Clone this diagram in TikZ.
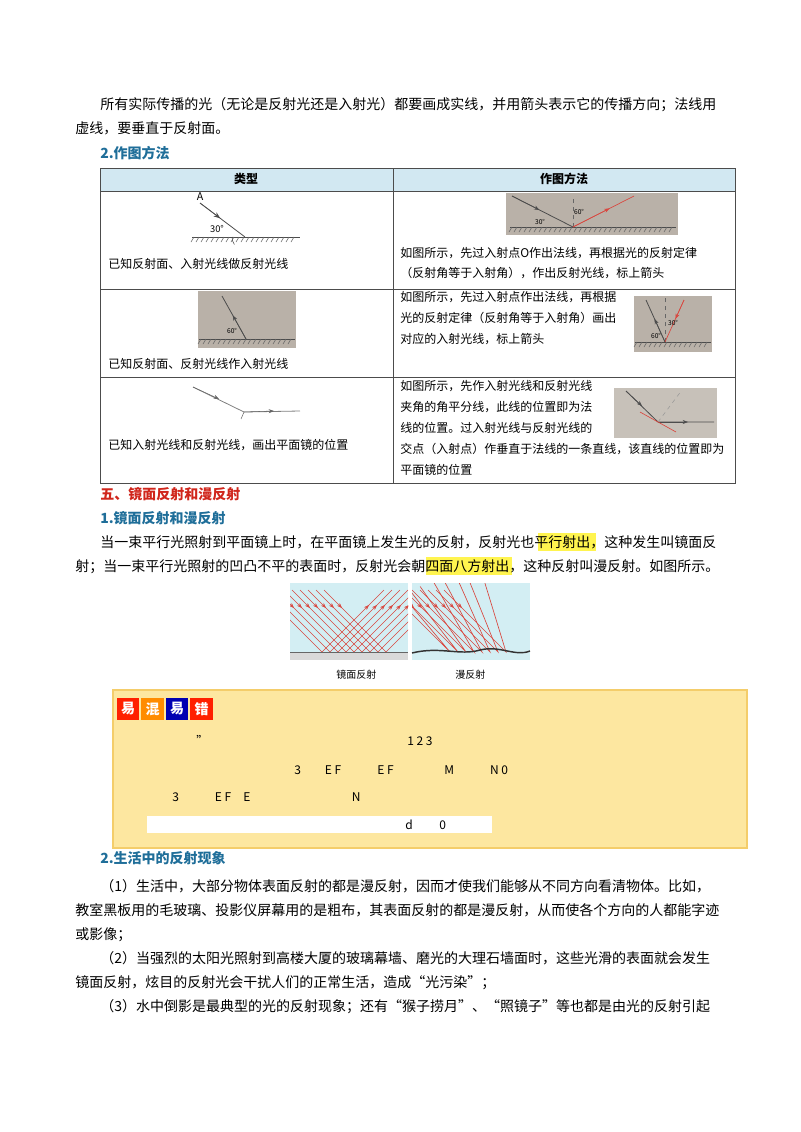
\documentclass[tikz,border=0pt]{standalone}
\usepackage{fontspec}
\setmainfont{Noto Sans CJK SC}
\usetikzlibrary{arrows.meta, positioning, calc}
\definecolor{headblue}{HTML}{D2E8F2}
\definecolor{titleblue}{HTML}{1F6E99}
\definecolor{titlered}{HTML}{D0261C}
\definecolor{boxfill}{HTML}{FDE7A0}
\definecolor{boxline}{HTML}{F4CD6A}
\definecolor{photo}{HTML}{B9B1A8}
\definecolor{sky}{HTML}{D3EEF3}
\definecolor{rayred}{HTML}{D9473F}
\definecolor{highlite}{HTML}{FFF44F}
\tikzset{
    body/.style={anchor=base west, inner sep=0pt, font=\fontsize{10.5pt}{12pt}\selectfont},
    small/.style={anchor=base west, inner sep=0pt, font=\fontsize{9pt}{11pt}\selectfont},
    title/.style={body, font=\fontsize{10.5pt}{12pt}\selectfont\bfseries, text=titleblue},
    badge/.style={minimum width=17pt, minimum height=17pt, inner sep=0pt, text=white,
      font=\fontsize{10.5pt}{12pt}\selectfont\bfseries},
    ray/.style={draw=black!70, line width=0.6pt},
    redray/.style={draw=rayred, line width=0.5pt},
}
\begin{document}
\begin{tikzpicture}[x=0.75pt, y=-0.75pt]
    \useasboundingbox (0,0) rectangle (800,1132);

    % opening paragraph
    \node[body] (p1) at (100,109) {所有实际传播的光（无论是反射光还是入射光）都要画成实线，并用箭头表示它的传播方向；法线用};
    \node[body] (p2) at (75,133) {虚线，要垂直于反射面。};
    \node[title] (t2) at (100,158) {2.作图方法};

    % table
    \fill[headblue] (100,168) rectangle (735,191);
    \draw[black!70, line width=0.6pt] (100,168) rectangle (735,483);
    \foreach \y in {191,289,377} \draw[black!70, line width=0.6pt] (100,\y) -- (735,\y);
    \draw[black!70, line width=0.6pt] (393,168) -- (393,483);
    \node[font=\fontsize{9pt}{11pt}\selectfont\bfseries] (h1) at (246,179) {类型};
    \node[font=\fontsize{9pt}{11pt}\selectfont\bfseries] (h2) at (564,179) {作图方法};

    % row 1
    \draw[black!70] (192,237) -- (300,237);
    \foreach \x in {194,199,...,298} \draw[black!60, line width=0.4pt] (\x,237) -- ++(-3,5);
    \coordinate (o1) at (245,237);
    \draw[ray] (200,203) -- (o1);
    \draw[-{Stealth[length=5pt]}, black!70] (200,203) -- ($(200,203)!0.45!(o1)$);
    \draw[black!70] ($(o1)+(-13,0)$) arc (180:145:13);
    \node[font=\itshape\footnotesize] (a1) at (200,197) {A};
    \node[font=\scriptsize] (d1) at (217,229) {30°};
    \node[small] (r1) at (108,268) {已知反射面、入射光线做反射光线};

    \fill[photo] (506,193) rectangle (678,235);
    \draw[black!70] (510,227) -- (676,227);
    \foreach \x in {512,517,...,674} \draw[black!60, line width=0.4pt] (\x,227) -- ++(-3,5);
    \coordinate (o2) at (573,227);
    \draw[ray] (512,196) -- (o2);
    \draw[-{Stealth[length=4pt]}, black!70] (512,196) -- ($(512,196)!0.45!(o2)$);
    \draw[black!60, dashed] (o2) -- (573,195);
    \draw[redray] (o2) -- (634,196);
    \draw[-{Stealth[length=4pt]}, rayred] (o2) -- ($(o2)!0.6!(634,196)$);
    \node[font=\tiny] (d2) at (540,222) {30°};
    \node[font=\tiny] (d3) at (579,212) {60°};
    \node[small] (s1) at (400,257) {如图所示，先过入射点O作出法线，再根据光的反射定律};
    \node[small] (s2) at (400,277) {（反射角等于入射角），作出反射光线，标上箭头};

    % row 2
    \fill[photo] (198,291) rectangle (296,348);
    \draw[black!70] (199,339) -- (295,339);
    \foreach \x in {201,206,...,293} \draw[black!60, line width=0.4pt] (\x,339) -- ++(-3,5);
    \coordinate (o3) at (246,339);
    \draw[ray] (o3) -- (222,296);
    \draw[-{Stealth[length=4pt]}, black!70] (o3) -- ($(o3)!0.55!(222,296)$);
    \node[font=\tiny] (d4) at (232,331) {60°};
    \node[small] (r2) at (108,368) {已知反射面、反射光线作入射光线};

    \fill[photo] (634,296) rectangle (712,352);
    \draw[black!70] (635,342) -- (711,342);
    \foreach \x in {637,642,...,709} \draw[black!60, line width=0.4pt] (\x,342) -- ++(-3,5);
    \coordinate (o4) at (665,342);
    \draw[ray] (o4) -- (646,300);
    \draw[-{Stealth[length=4pt]}, black!70] (o4) -- ($(o4)!0.55!(646,300)$);
    \draw[black!60, dashed] (o4) -- (665,298);
    \draw[redray] (o4) -- (684,300);
    \draw[-{Stealth[length=4pt]}, rayred] (684,300) -- ($(684,300)!0.45!(o4)$);
    \node[font=\tiny] (d5) at (673,323) {30°};
    \node[font=\tiny] (d6) at (656,336) {60°};
    \node[small] (s3) at (400,301) {如图所示，先过入射点作出法线，再根据};
    \node[small] (s4) at (400,322) {光的反射定律（反射角等于入射角）画出};
    \node[small] (s5) at (400,343) {对应的入射光线，标上箭头};

    % row 3
    \coordinate (o5) at (244,412);
    \draw[ray, black!50] (193,387) -- (o5) -- (300,411);
    \draw[-{Stealth[length=4pt]}, black!60] (193,387) -- (219,399);
    \draw[-{Stealth[length=4pt]}, black!60] (o5) -- (274,411);
    \draw[black!60] (o5) -- (241,419);
    \node[small] (r3) at (108,449) {已知入射光线和反射光线，画出平面镜的位置};

    \fill[photo!80] (614,388) rectangle (717,438);
    \coordinate (o6) at (658,422);
    \draw[ray] (626,391) -- (o6) -- (714,422);
    \draw[-{Stealth[length=4pt]}, black!70] (626,391) -- (642,406);
    \draw[-{Stealth[length=4pt]}, black!70] (o6) -- (688,422);
    \draw[black!40, dashed] (o6) -- (682,390);
    \draw[redray] (640,412) -- (676,432);
    \node[small] (s6) at (400,390) {如图所示，先作入射光线和反射光线};
    \node[small] (s7) at (400,411) {夹角的角平分线，此线的位置即为法};
    \node[small] (s8) at (400,432) {线的位置。过入射光线与反射光线的};
    \node[small] (s9) at (400,453) {交点（入射点）作垂直于法线的一条直线，该直线的位置即为};
    \node[small] (s10) at (400,474) {平面镜的位置};

    % section five
    \node[body, font=\fontsize{10.5pt}{12pt}\selectfont\bfseries, text=titlered] (t5) at (100,499) {五、镜面反射和漫反射};
    \node[title] (t51) at (100,523) {1.镜面反射和漫反射};
    \fill[highlite] (538,533) rectangle (596,551);
    \fill[highlite] (426,557) rectangle (512,575);
    \node[body] (q1) at (100,547) {当一束平行光照射到平面镜上时，在平面镜上发生光的反射，反射光也平行射出，这种发生叫镜面反};
    \node[body] (q2) at (75,571) {射；当一束平行光照射的凹凸不平的表面时，反射光会朝四面八方射出，这种反射叫漫反射。如图所示。};

    % reflection pictures
    \fill[sky] (290,583) rectangle (408,660);
    \fill[sky] (412,583) rectangle (530,660);
    \fill[black!15] (290,652) rectangle (408,660);
    \begin{scope}
      \clip (290,583) rectangle (408,652);
      \foreach \g in {322,330,...,386} {
        \draw[rayred, line width=0.5pt] (\g-62,590) -- (\g,652) -- (\g+62,590);
        \draw[-{Stealth[length=4pt]}, rayred] (\g-47,605) -- (\g-44,608);
        \draw[-{Stealth[length=4pt]}, rayred] (\g+44,608) -- (\g+47,605);
      }
    \end{scope}
    \begin{scope}
      \clip (412,583) rectangle (530,654);
      \foreach \g/\a in {450/50,458/52,466/55,474/60,482/62,490/66,498/68,506/73} {
        \draw[rayred, line width=0.5pt] (\g-62,590) -- (\g,652) -- ++(\a:-80);
        \draw[-{Stealth[length=4pt]}, rayred] (\g-47,605) -- (\g-44,608);
      }
    \end{scope}
    \draw[black!80, line width=1.1pt] (412,653) .. controls (440,646) and (460,656) .. (480,650) .. controls (500,645) and (515,657) .. (530,651);
    \draw[black!60] (290,652) -- (408,652);
    \node[small, font=\fontsize{7.5pt}{9pt}\selectfont] (c1) at (336,678) {镜面反射};
    \node[small, font=\fontsize{7.5pt}{9pt}\selectfont] (c2) at (455,678) {漫反射};

    % warning box
    \draw[boxline, fill=boxfill, line width=0.8pt] (113,690) rectangle (747,848);
    \node[badge, fill=red!75!orange] (b1) at (128,709) {易};
    \node[badge, fill=orange!90!yellow, right=1pt of b1] (b2) {混};
    \node[badge, fill=blue!70!black, right=1pt of b2] (b3) {易};
    \node[badge, fill=red!75!orange, right=1pt of b3] (b4) {错};
    \node[small] (w1) at (196,745) {"};
    \node[small] (w2) at (407,745) {1\ 2\ 3};
    \node[small] (w3) at (294,774) {3\qquad E F\qquad\quad E F\qquad\qquad\ M\qquad\quad N 0};
    \node[small] (w4) at (172,801) {3\qquad\quad E F\quad E\qquad\qquad\qquad\qquad\ \ N};
    \fill[white] (147,816) rectangle (492,833);
    \node[small] (w5) at (405,829) {d\qquad\ 0};

    % section two
    \node[title] (t6) at (100,863) {2.生活中的反射现象};
    \node[body] (l1) at (100,891) {（1）生活中，大部分物体表面反射的都是漫反射，因而才使我们能够从不同方向看清物体。比如，};
    \node[body] (l2) at (75,915) {教室黑板用的毛玻璃、投影仪屏幕用的是粗布，其表面反射的都是漫反射，从而使各个方向的人都能字迹};
    \node[body] (l3) at (75,939) {或影像；};
    \node[body] (l4) at (100,963) {（2）当强烈的太阳光照射到高楼大厦的玻璃幕墙、磨光的大理石墙面时，这些光滑的表面就会发生};
    \node[body] (l5) at (75,987) {镜面反射，炫目的反射光会干扰人们的正常生活，造成“光污染”；};
    \node[body] (l6) at (100,1011) {（3）水中倒影是最典型的光的反射现象；还有“猴子捞月”、“照镜子”等也都是由光的反射引起};
\end{tikzpicture}
\end{document}
